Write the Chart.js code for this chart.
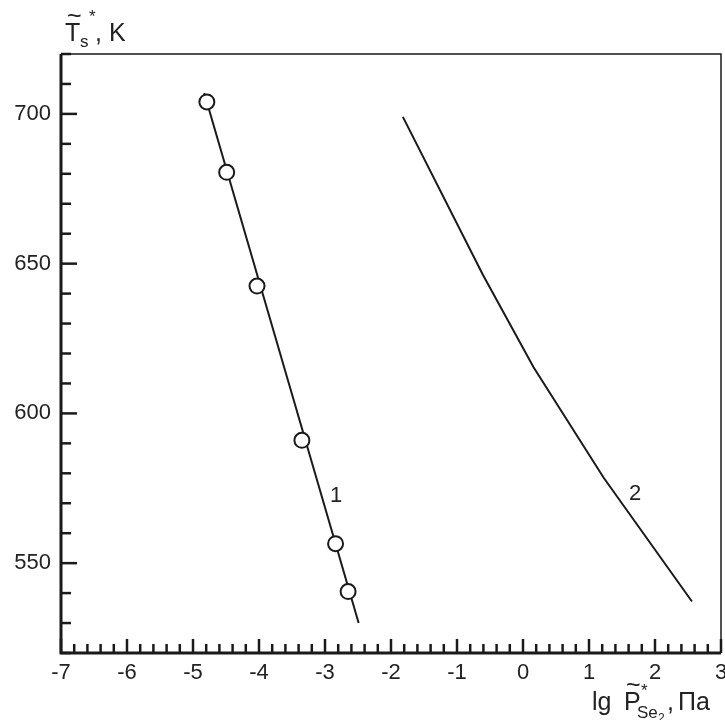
<!DOCTYPE html>
<html>
<head>
<meta charset="utf-8">
<script src="https://cdn.jsdelivr.net/npm/chart.js@4.4.0/dist/chart.umd.min.js"></script>
<style>
  html, body { margin: 0; padding: 0; background: #fff; }
  #wrap { width: 725px; height: 720px; }
</style>
</head>
<body>
<div id="wrap"><canvas id="c"></canvas></div>
<script>
// curve 1: measured points (circles) and the straight line through them
const pointsX = [-4.79, -4.49, -4.03, -3.35, -2.84, -2.65];
const pointsT = [704, 680.5, 642.5, 591, 556.5, 540.5];
const fitX = [-4.83, -2.49];
const fitT = [707, 530];
// curve 2
const calcX = [-1.82, -0.61, 0.16, 1.22, 2.56];
const calcT = [699, 646.4, 615.4, 578.6, 537.2];

const xTicks = [-7, -6, -5, -4, -3, -2, -1, 0, 1, 2, 3];
const yTicks = [550, 600, 650, 700];
const curveLabels = ['1', '2'];
const curveLabelX = [-2.83, 1.70];
const curveLabelT = [572.5, 573];

const INK = '#1a1a1a';
const FONT = '"Liberation Sans", Arial, sans-serif';
Chart.defaults.font.family = FONT;

const toXY = (xs, ys) => xs.map((v, i) => ({x: v, y: ys[i]}));

// inward ticks, box and the axis titles
const frame = {
  id: 'frame',
  afterDraw(chart) {
    const {ctx, chartArea: a, scales: {x, y}} = chart;
    ctx.save();
    ctx.strokeStyle = INK;
    ctx.lineWidth = 2.5;
    for (let v = 520; v <= 720; v += 10) {
      const py = y.getPixelForValue(v);
      const len = yTicks.includes(v) ? 16 : 10;
      ctx.beginPath(); ctx.moveTo(a.left, py); ctx.lineTo(a.left + len, py); ctx.stroke();
    }
    for (let i = 0; i <= 50; i++) {
      const px = x.getPixelForValue(-7 + i * 0.2);
      const len = i % 5 === 0 ? 14 : 9;
      ctx.beginPath(); ctx.moveTo(px, a.bottom); ctx.lineTo(px, a.bottom - len); ctx.stroke();
    }
    // thin top / right
    ctx.lineWidth = 1.5;
    ctx.beginPath();
    ctx.moveTo(a.left, a.top); ctx.lineTo(a.right, a.top); ctx.lineTo(a.right, a.bottom);
    ctx.stroke();
    // thick left / bottom
    ctx.lineWidth = 3;
    ctx.beginPath();
    ctx.moveTo(a.left, a.top); ctx.lineTo(a.left, a.bottom); ctx.lineTo(a.right, a.bottom);
    ctx.stroke();

    ctx.fillStyle = '#222';
    // curve numbers
    ctx.font = '22px ' + FONT;
    ctx.textAlign = 'center';
    ctx.textBaseline = 'middle';
    curveLabels.forEach((t, i) => {
      ctx.fillText(t, x.getPixelForValue(curveLabelX[i]), y.getPixelForValue(curveLabelT[i]));
    });
    ctx.textAlign = 'left';
    ctx.textBaseline = 'alphabetic';

    // y title: T~ s *, K
    ctx.font = '25px ' + FONT;
    ctx.fillText('T', 65, 41);
    ctx.fillText('~', 67, 24);
    ctx.fillText(', K', 95, 41);
    ctx.font = '17px ' + FONT;
    ctx.fillText('s', 80, 47);
    ctx.fillText('*', 89, 22);

    // x title: lg P~*Se2, Па
    ctx.font = '25px ' + FONT;
    ctx.fillText('lg', 592, 710);
    ctx.fillText('P', 624, 710);
    ctx.fillText('~', 626, 693);
    ctx.fillText(',', 667, 710);
    ctx.fillText('Па', 678, 710);
    ctx.font = '17px ' + FONT;
    ctx.fillText('*', 641, 696);
    ctx.fillText('Se', 637, 718);
    ctx.font = '12px ' + FONT;
    ctx.fillText('2', 658, 722);
    ctx.restore();
  }
};

new Chart(document.getElementById('c'), {
  type: 'scatter',
  data: {
    datasets: [
      {
        data: toXY(pointsX, pointsT),
        pointRadius: 7.5,
        pointBorderWidth: 2,
        pointBackgroundColor: '#fff',
        pointBorderColor: INK,
        showLine: false
      },
      {
        data: toXY(fitX, fitT),
        showLine: true,
        borderColor: INK,
        borderWidth: 2,
        pointRadius: 0
      },
      {
        data: toXY(calcX, calcT),
        showLine: true,
        borderColor: INK,
        borderWidth: 2,
        pointRadius: 0
      }
    ]
  },
  options: {
    responsive: true,
    maintainAspectRatio: false,
    animation: false,
    layout: { autoPadding: false, padding: { top: 54, right: 4, left: 0, bottom: 0 } },
    plugins: { legend: { display: false }, tooltip: { enabled: false } },
    scales: {
      x: {
        type: 'linear',
        min: -7, max: 3,
        grid: { display: false, drawTicks: false },
        border: { display: false },
        afterBuildTicks: s => { s.ticks = xTicks.map(v => ({value: v})); },
        afterFit: s => { s.height = 67; s.paddingLeft = 0; s.paddingRight = 0; },
        ticks: { color: '#222', font: { size: 22 }, padding: 7, maxRotation: 0 }
      },
      y: {
        type: 'linear',
        min: 520, max: 720,
        grid: { display: false, drawTicks: false },
        border: { display: false },
        afterBuildTicks: s => { s.ticks = yTicks.map(v => ({value: v})); },
        afterFit: s => { s.width = 61; s.paddingTop = 0; s.paddingBottom = 0; },
        ticks: { color: '#222', font: { size: 22 }, padding: 10 }
      }
    }
  },
  plugins: [frame]
});
</script>
</body>
</html>
